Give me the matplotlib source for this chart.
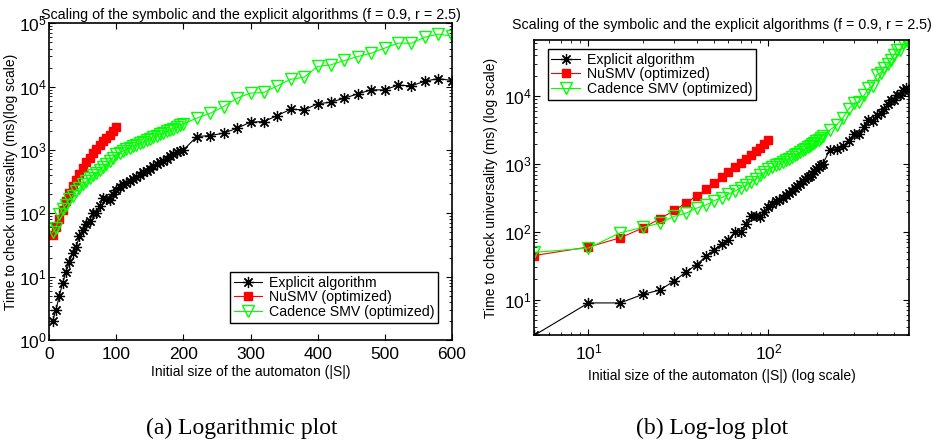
import matplotlib
matplotlib.use("Agg")
import matplotlib.pyplot as plt
from matplotlib.ticker import LogLocator, NullFormatter

plt.rcParams["font.family"] = ["Liberation Sans", "DejaVu Sans"]
plt.rcParams["mathtext.fontset"] = "custom"
plt.rcParams["mathtext.rm"] = "Liberation Sans"
plt.rcParams["mathtext.it"] = "Liberation Sans"
plt.rcParams["font.size"] = 10

TITLE = "Scaling of the symbolic and the explicit algorithms (f = 0.9, r = 2.5)"
LABELS = ["Explicit algorithm", "NuSMV (optimized)", "Cadence SMV (optimized)"]

# Initial automaton sizes |S|
sizes = [5, 10, 15, 20, 25, 30, 35, 40, 45, 50, 55, 60, 65, 70, 75, 80, 85, 90, 95, 100,
         105, 110, 115, 120, 125, 130, 135, 140, 145, 150, 155, 160, 165, 170, 175, 180,
         185, 190, 195, 200, 220, 240, 260, 280, 300, 320, 340, 360, 380, 400, 420, 440,
         460, 480, 500, 520, 540, 560, 580, 600]
nusmv_sizes = sizes[:20]

# Times in ms
explicit_ms = [3, 9, 9, 12, 14, 19, 26, 33, 44, 54, 67, 77, 100, 100, 131, 172, 170, 165, 200, 236,
               260, 290, 300, 320, 350, 370, 400, 450, 470, 510, 560, 600, 640, 660, 720, 800,
               850, 920, 970, 1000, 1630, 1690, 1840, 2210, 2750, 2810, 3500, 4400, 4300, 5350,
               5690, 6580, 7700, 8890, 8890, 10550, 10300, 12200, 13400, 12500]
# the logarithmic plot starts from a different first few measurements
explicit_head_lin = [2, 3, 5, 8, 12, 17, 24, 29]
nusmv_ms = [45, 60, 82, 114, 157, 208, 271, 339, 425, 525, 640, 760, 900, 1050, 1200, 1380,
            1550, 1750, 2000, 2300]
cadence_ms = [50, 58, 97, 117, 135, 170, 190, 225, 250, 290, 320, 360, 400, 440, 490, 540,
              600, 680, 760, 850, 900, 960, 1020, 1080, 1140, 1200, 1270, 1340, 1420, 1500,
              1590, 1680, 1770, 1860, 1960, 2060, 2170, 2280, 2440, 2600, 3180, 3810, 4850,
              6580, 7890, 8100, 10300, 13100, 14100, 20800, 22100, 25900, 29900, 33800, 40500,
              48600, 48600, 60500, 67500, 63000]

W, H = 943, 440
fig = plt.figure(figsize=(W / 100, H / 100), dpi=100)

ASTERISK = (8, 2, 0)  # matlab-like '*' marker


def px_axes(left, top, right, bottom):
    return fig.add_axes([left / W, 1 - bottom / H, (right - left) / W, (bottom - top) / H])


def draw_series(ax, explicit):
    ax.plot(sizes, explicit, color="k", marker=ASTERISK, markersize=8, linewidth=0.8,
            markeredgewidth=0.9, label=LABELS[0])
    ax.plot(nusmv_sizes, nusmv_ms, color="r", marker="s", markersize=6, linewidth=0.8,
            markerfacecolor="r", label=LABELS[1])
    ax.plot(sizes, cadence_ms, color=(0, 1, 0), marker="v", markersize=9, linewidth=0.8,
            markerfacecolor="none", label=LABELS[2])


def matlab_style(ax):
    ax.tick_params(which="both", direction="in", top=True, right=True, labelsize=12.5)
    ax.tick_params(which="major", length=4)
    ax.tick_params(which="minor", length=2)
    ax.tick_params(axis="x", pad=5)
    ax.tick_params(axis="y", pad=2)
    for sp in ax.spines.values():
        sp.set_linewidth(1.2)


def add_legend(ax, loc, anchor):
    leg = ax.legend(loc=loc, bbox_to_anchor=anchor, borderaxespad=0, fancybox=False,
                    edgecolor="k", framealpha=1, handlelength=2.0, borderpad=0.25,
                    labelspacing=0.05, handletextpad=0.5, fontsize=10.2)
    leg.get_frame().set_linewidth(1.0)


# (a) logarithmic plot
ax1 = px_axes(49.3, 23.3, 451.7, 340)
draw_series(ax1, explicit_head_lin + explicit_ms[len(explicit_head_lin):])
ax1.set_yscale("log")
ax1.set_xlim(0, 600)
ax1.set_ylim(1, 1e5)
ax1.set_xticks([0, 100, 200, 300, 400, 500, 600])
ax1.yaxis.set_major_locator(LogLocator(base=10, numticks=10))
ax1.yaxis.set_minor_locator(LogLocator(base=10, subs=range(2, 10), numticks=10))
ax1.yaxis.set_minor_formatter(NullFormatter())
matlab_style(ax1)
ax1.set_title(TITLE, fontsize=10.3, pad=3)
ax1.set_xlabel("Initial size of the automaton (|S|)")
ax1.set_ylabel("Time to check universality (ms)(log scale)")
ax1.xaxis.set_label_coords(0.5, -0.079)
ax1.yaxis.set_label_coords(-0.078, 0.5)
add_legend(ax1, "lower right", (0.967, 0.055))

# (b) log-log plot
ax2 = px_axes(534.3, 40, 909.3, 335.3)
draw_series(ax2, explicit_ms)
ax2.set_xscale("log")
ax2.set_yscale("log")
ax2.set_xlim(5, 607)
ax2.set_ylim(3, 67500)
for axis in (ax2.xaxis, ax2.yaxis):
    axis.set_major_locator(LogLocator(base=10, numticks=10))
    axis.set_minor_locator(LogLocator(base=10, subs=range(2, 10), numticks=10))
    axis.set_minor_formatter(NullFormatter())
matlab_style(ax2)
ax2.set_title(TITLE, fontsize=10.3, pad=8)
ax2.set_xlabel("Initial size of the automaton (|S|) (log scale)")
ax2.set_ylabel("Time to check universality (ms) (log scale)")
ax2.xaxis.set_label_coords(0.5, -0.115)
ax2.yaxis.set_label_coords(-0.096, 0.5)
add_legend(ax2, "upper left", (0.036, 0.9695))

# sub-figure captions
fig.text(241.7 / W, 1 - 434 / H, "(a) Logarithmic plot", ha="center", va="baseline",
         family=["Liberation Serif", "DejaVu Serif"], fontsize=17)
fig.text(712 / W, 1 - 434 / H, "(b) Log-log plot", ha="center", va="baseline",
         family=["Liberation Serif", "DejaVu Serif"], fontsize=17)

fig.savefig("out.png", dpi=100)
